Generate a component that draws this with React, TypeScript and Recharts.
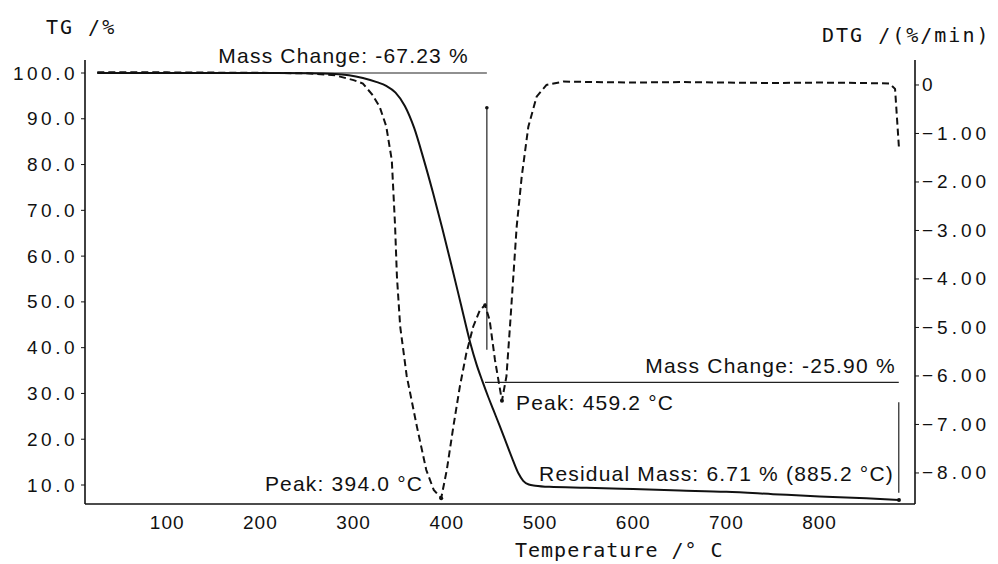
import React from "react";
import { ComposedChart, Line, XAxis, YAxis, ReferenceLine, ReferenceDot } from "recharts";

// ---- data ----
const tgTemp = [25, 100, 200, 250, 280, 295, 310, 325, 335, 345, 355, 365, 375, 385, 395, 405, 415, 425, 432, 438, 444, 450, 457, 464, 471, 477, 482, 488, 495, 510, 550, 600, 650, 700, 750, 800, 850, 885.2];
const tgValue = [100, 100, 100, 99.95, 99.8, 99.5, 98.9, 98.0, 97.2, 95.7, 92.8, 88.0, 81.3, 74.0, 66.2, 58.0, 49.6, 41.2, 36.3, 32.8, 29.5, 26.4, 22.8, 19.1, 15.4, 12.5, 10.9, 10.1, 9.85, 9.6, 9.4, 9.1, 8.8, 8.5, 8.0, 7.5, 7.1, 6.71];

const dtgTemp = [25, 100, 200, 250, 280, 300, 310, 320, 328, 335, 341, 344.5, 346.5, 350, 357, 368, 378, 386, 394, 400, 407, 414, 421, 428.4, 435.6, 441, 446, 451.7, 459.2, 464, 467.8, 471.4, 475, 480.4, 487.5, 496.4, 507, 525, 560, 600, 650, 700, 750, 800, 850, 875, 881, 885.2];
const dtgValue = [0.26, 0.26, 0.25, 0.24, 0.2, 0.1, 0.03, -0.2, -0.45, -0.85, -1.55, -2.9, -3.95, -4.98, -6.0, -7.05, -7.94, -8.35, -8.52, -7.94, -7.05, -6.22, -5.53, -4.98, -4.64, -4.54, -4.85, -5.67, -6.51, -6.01, -4.98, -3.95, -2.92, -1.89, -0.86, -0.24, 0.0, 0.07, 0.06, 0.05, 0.06, 0.05, 0.04, 0.05, 0.04, 0.03, -0.08, -1.3];

const xTicks = [100, 200, 300, 400, 500, 600, 700, 800];
const tgTicks = [10, 20, 30, 40, 50, 60, 70, 80, 90, 100];
const dtgTicks = [0, -1, -2, -3, -4, -5, -6, -7, -8];

const tgData = tgTemp.map((t, i) => ({ t, tg: tgValue[i] }));
const dtgData = dtgTemp.map((t, i) => ({ t, dtg: dtgValue[i] }));

const SANS = "'Liberation Sans', Arial, sans-serif";
const MONO = "'DejaVu Sans Mono', monospace";

const LeftTick = (props: any) => {
  const { x, y, payload } = props;
  return (
    <text x={x} y={y} textAnchor="end" dominantBaseline="central" fontFamily={SANS} fontSize={19} letterSpacing={3.5} fill="#111">
      {Number(payload.value).toFixed(1)}
    </text>
  );
};

const RightTick = (props: any) => {
  const { x, y, payload } = props;
  const v = Number(payload.value);
  const s = v === 0 ? "0" : "\u2212" + Math.abs(v).toFixed(2);
  return (
    <text x={x} y={y} textAnchor="start" dominantBaseline="central" fontFamily={SANS} fontSize={19} letterSpacing={4} fill="#111">
      {s}
    </text>
  );
};

const BottomTick = (props: any) => {
  const { x, y, payload } = props;
  return (
    <text x={x} y={y + 18} textAnchor="middle" dominantBaseline="central" fontFamily={SANS} fontSize={19} letterSpacing={1} fill="#111">
      {payload.value}
    </text>
  );
};

const ann = (text: string, dx: number, dy: number, anchor: string) => (props: any) => {
  const vb = props.viewBox || {};
  const cx = (vb.x ?? 0) + (vb.width ?? 0) / 2;
  const cy = (vb.y ?? 0) + (vb.height ?? 0) / 2;
  return (
    <text x={cx + dx} y={cy + dy} textAnchor={anchor} dominantBaseline="central" fontFamily={SANS} fontSize={21} letterSpacing={1.2} fill="#111">
      {text}
    </text>
  );
};

export default function App() {
  return (
    <div style={{ position: "absolute", left: 0, top: 0, width: 998, height: 564, background: "#fff" }}>
      <ComposedChart width={998} height={564} margin={{ top: 60, right: 0, bottom: 30, left: 0 }}>
        <XAxis
          type="number"
          dataKey="t"
          domain={[11.8, 902.4]}
          ticks={xTicks}
          allowDataOverflow
          height={30}
          tickLine={false}
          tickSize={0}
          tickMargin={0}
          axisLine={{ stroke: "#111", strokeWidth: 1.6 }}
          tick={BottomTick}
        />
        <YAxis
          yAxisId="tg"
          orientation="left"
          type="number"
          domain={[5.85, 102.84]}
          ticks={tgTicks}
          allowDataOverflow
          width={85}
          tickSize={4}
          tickMargin={3}
          axisLine={{ stroke: "#111", strokeWidth: 1.6 }}
          tickLine={{ stroke: "#111" }}
          tick={LeftTick}
        />
        <YAxis
          yAxisId="dtg"
          orientation="right"
          type="number"
          domain={[-8.64, 0.515]}
          ticks={dtgTicks}
          allowDataOverflow
          width={83}
          tickSize={4}
          tickMargin={3}
          axisLine={{ stroke: "#111", strokeWidth: 1.6 }}
          tickLine={{ stroke: "#111" }}
          tick={RightTick}
        />

        {/* annotation lines */}
        <ReferenceLine yAxisId="tg" segment={[{ x: 25, y: 100 }, { x: 443, y: 100 }]} stroke="#222" strokeWidth={1.2} />
        <ReferenceLine yAxisId="dtg" segment={[{ x: 443, y: -0.47 }, { x: 443, y: -5.46 }]} stroke="#222" strokeWidth={1.2} />
        <ReferenceLine yAxisId="tg" segment={[{ x: 441, y: 32.4 }, { x: 885, y: 32.4 }]} stroke="#222" strokeWidth={1.2} />
        <ReferenceLine yAxisId="tg" segment={[{ x: 885, y: 28.1 }, { x: 885, y: 8.3 }]} stroke="#222" strokeWidth={1.2} />

        <Line data={tgData} yAxisId="tg" dataKey="tg" type="monotone" dot={false} stroke="#111" strokeWidth={2} isAnimationActive={false} />
        <Line data={dtgData} yAxisId="dtg" dataKey="dtg" type="linear" dot={false} stroke="#111" strokeWidth={2} strokeDasharray="7 4" isAnimationActive={false} />

        {/* markers + labels */}
        <ReferenceDot yAxisId="tg" x={443} y={100} r={0} stroke="none" fill="none" label={ann("Mass Change: -67.23 %", -18, -18, "end")} />
        <ReferenceDot yAxisId="tg" x={885} y={32.4} r={0} stroke="none" fill="none" label={ann("Mass Change: -25.90 %", -3, -17, "end")} />
        <ReferenceDot yAxisId="dtg" x={443} y={-0.47} r={1.8} fill="#111" stroke="none" />
        <ReferenceDot yAxisId="dtg" x={441} y={-4.54} r={1.8} fill="#111" stroke="none" />
        <ReferenceDot yAxisId="dtg" x={459.2} y={-6.51} r={2} fill="#111" stroke="none" label={ann("Peak: 459.2 °C", 14, 2, "start")} />
        <ReferenceDot yAxisId="dtg" x={394} y={-8.52} r={2} fill="#111" stroke="none" label={ann("Peak: 394.0 °C", -18, -15, "end")} />
        <ReferenceDot yAxisId="tg" x={885.2} y={6.71} r={2} fill="#111" stroke="none" label={ann("Residual Mass: 6.71 % (885.2 °C)", -5, -27, "end")} />
      </ComposedChart>

      <svg width={998} height={564} style={{ position: "absolute", left: 0, top: 0, pointerEvents: "none" }}>
        <text x={46} y={27} dominantBaseline="central" fontFamily={MONO} fontSize={20} letterSpacing={2} fill="#111">TG /%</text>
        <text x={822} y={35} dominantBaseline="central" fontFamily={MONO} fontSize={20} letterSpacing={2} fill="#111">DTG /(%/min)</text>
        <text x={515} y={550} dominantBaseline="central" fontFamily={MONO} fontSize={20} letterSpacing={1} fill="#111">Temperature /° C</text>
      </svg>
    </div>
  );
}
